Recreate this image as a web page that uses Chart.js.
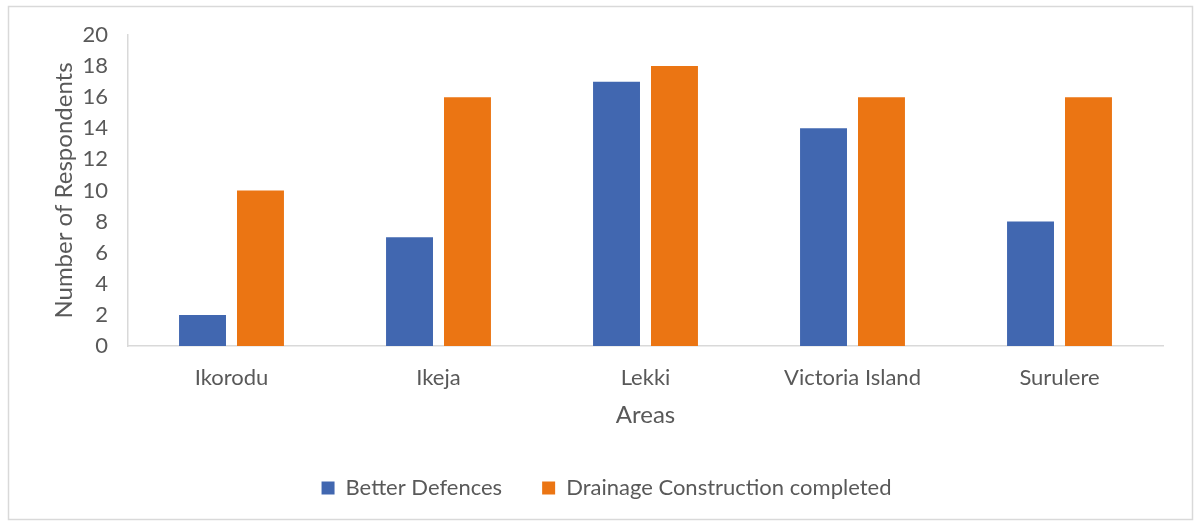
<!DOCTYPE html>
<html>
<head>
<meta charset="utf-8">
<script src="https://cdn.jsdelivr.net/npm/chart.js@4/dist/chart.umd.min.js"></script>
<style>
  html, body { margin: 0; padding: 0; background: #fff; }
  #wrap { width: 1194px; height: 522px; position: relative; }
</style>
</head>
<body>
<div id="wrap"><canvas id="myChart" width="1194" height="522"></canvas></div>
<script>
// respondents per area
var areas = ['Ikorodu', 'Ikeja', 'Lekki', 'Victoria Island', 'Surulere']
var betterDefences = [2, 7, 17, 14, 8]
var drainageCompleted = [10, 16, 18, 16, 16]

var textGrey = '#595959'
var fontName = 'Lato'

// thin frame round the whole chart
const frame = {
  id: 'frame',
  beforeDraw(chart) {
    const c = chart.ctx
    c.save()
    c.fillStyle = '#fff'
    c.fillRect(0, 0, chart.width, chart.height)
    c.strokeStyle = '#D9D9D9'
    c.lineWidth = 1.5
    c.strokeRect(8.5, 6.5, 1184, 513)
    c.restore()
  }
}

let ctx = document.getElementById('myChart').getContext('2d');
let chart = new Chart(ctx, {
    type: 'bar',
    data: {
        labels: areas,
        datasets: [{
            label: 'Better Defences',
            backgroundColor: '#4167B0',
            data: betterDefences,
            categoryPercentage: 0.56,
            barPercentage: 0.81
        },
        {
            label: 'Drainage Construction completed',
            backgroundColor: '#EB7513',
            data: drainageCompleted,
            categoryPercentage: 0.56,
            barPercentage: 0.81
        }]
    },
    plugins: [frame],
    options: {
        responsive: false,
        animation: false,
        layout: { padding: { left: 50, right: 31, top: 35, bottom: 13 } },
        scales: {
            y: {
                min: 0,
                max: 20,
                ticks: { stepSize: 2, autoSkip: false, color: textGrey, padding: 20, font: { family: fontName, size: 22 } },
                grid: { display: false, drawTicks: false },
                border: { display: true, color: '#D9D9D9', width: 1.5 },
                title: {
                    display: true,
                    text: 'Number of Respondents',
                    color: textGrey,
                    padding: 0,
                    font: { family: fontName, size: 24 }
                },
                afterFit: function (scale) { scale.width = 78 }
            },
            x: {
                ticks: { color: textGrey, padding: 19, font: { family: fontName, size: 22 } },
                grid: { display: false, drawTicks: false },
                border: { display: true, color: '#D9D9D9', width: 1.5 },
                title: {
                    display: true,
                    text: 'Areas',
                    color: textGrey,
                    padding: { top: 4, bottom: 7 },
                    font: { family: fontName, size: 24 }
                },
                afterFit: function (scale) { scale.height = 91 }
            }
        },
        plugins: {
            legend: {
                position: 'bottom',
                labels: {
                    color: textGrey,
                    boxWidth: 13,
                    boxHeight: 13,
                    padding: 40,
                    font: { family: fontName, size: 22 }
                }
            },
            tooltip: { enabled: false }
        }
    }
});
</script>
</body>
</html>
